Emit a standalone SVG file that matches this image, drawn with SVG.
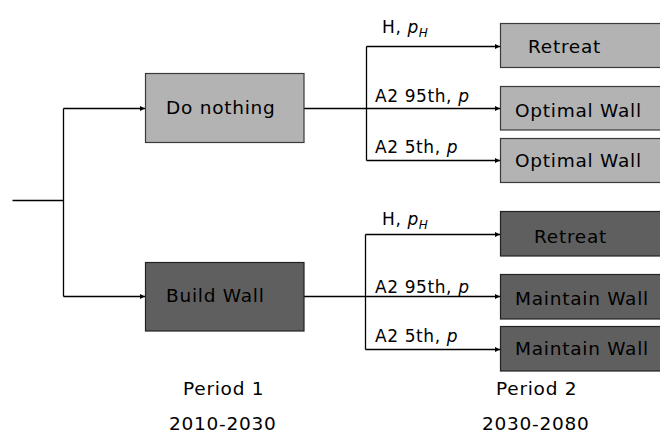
<svg xmlns="http://www.w3.org/2000/svg" width="660" height="433" viewBox="0 0 660 433">
<defs>
<marker id="ah" viewBox="0 0 10 10" refX="10" refY="5" markerWidth="5" markerHeight="5" orient="auto" markerUnits="userSpaceOnUse">
<path d="M0,0 L10,5 L0,10 z" fill="#000"/>
</marker>
<style>
.t{font-family:"DejaVu Sans","Verdana",sans-serif;font-size:18.5px;letter-spacing:0.75px;fill:#000}
.l{font-family:"DejaVu Sans","Verdana",sans-serif;font-size:17px;letter-spacing:0.6px;fill:#000}
.light{fill:#b3b3b3;stroke:#3a3a3a;stroke-width:1.2}
.dark{fill:#5f5f5f;stroke:#222;stroke-width:1.2}
.c{fill:none;stroke:#000;stroke-width:1.3}
</style>
</defs>
<rect width="660" height="433" fill="#fff"/>
<g id="connectors">
<path class="c" d="M12.5,200.5 H63.5"/>
<path class="c" d="M63.5,108.5 V296.5"/>
<path class="c" d="M63.5,108.5 H145" marker-end="url(#ah)"/>
<path class="c" d="M63.5,296.5 H145" marker-end="url(#ah)"/>
<path class="c" d="M304,108.5 H366.5"/>
<path class="c" d="M366.5,46.5 V160.5"/>
<path class="c" d="M366.5,46.5 H500" marker-end="url(#ah)"/>
<path class="c" d="M366.5,108.5 H500" marker-end="url(#ah)"/>
<path class="c" d="M366.5,160.5 H500" marker-end="url(#ah)"/>
<path class="c" d="M304,296.5 H365.5"/>
<path class="c" d="M365.5,234.5 V349.5"/>
<path class="c" d="M365.5,234.5 H500" marker-end="url(#ah)"/>
<path class="c" d="M365.5,296.5 H500" marker-end="url(#ah)"/>
<path class="c" d="M365.5,349.5 H500" marker-end="url(#ah)"/>
<text class="l" x="382" y="33">H, <tspan font-style="italic">p</tspan><tspan font-style="italic" font-size="12" dy="4">H</tspan></text>
<text class="l" x="375" y="102">A2 95th, <tspan font-style="italic">p</tspan></text>
<text class="l" x="375" y="153">A2 5th, <tspan font-style="italic">p</tspan></text>
<text class="l" x="382" y="225">H, <tspan font-style="italic">p</tspan><tspan font-style="italic" font-size="12" dy="4">H</tspan></text>
<text class="l" x="375" y="293">A2 95th, <tspan font-style="italic">p</tspan></text>
<text class="l" x="375" y="342">A2 5th, <tspan font-style="italic">p</tspan></text>
</g>
<g id="do-nothing">
<rect class="light" x="145.5" y="73.5" width="158.5" height="69"/>
<text class="t" x="166" y="114">Do nothing</text>
</g>
<g id="build-wall">
<rect class="dark" x="145.5" y="262.5" width="158.5" height="68.5"/>
<text class="t" x="166" y="302">Build Wall</text>
</g>
<g id="retreat-1">
<rect class="light" x="500.5" y="23.5" width="170" height="44"/>
<text class="t" x="528" y="53">Retreat</text>
</g>
<g id="optimal-wall-1">
<rect class="light" x="500.5" y="86.5" width="170" height="43.5"/>
<text class="t" x="515" y="117">Optimal Wall</text>
</g>
<g id="optimal-wall-2">
<rect class="light" x="500.5" y="138.5" width="170" height="44"/>
<text class="t" x="515" y="167">Optimal Wall</text>
</g>
<g id="retreat-2">
<rect class="dark" x="500.5" y="211.5" width="170" height="44.5"/>
<text class="t" x="534" y="243">Retreat</text>
</g>
<g id="maintain-wall-1">
<rect class="dark" x="500.5" y="274.5" width="170" height="44.5"/>
<text class="t" x="515" y="305">Maintain Wall</text>
</g>
<g id="maintain-wall-2">
<rect class="dark" x="500.5" y="326.5" width="170" height="44.5"/>
<text class="t" x="515" y="355">Maintain Wall</text>
</g>
<g id="period-labels">
<text class="t" x="183" y="395">Period 1</text>
<text class="t" x="169" y="430">2010-2030</text>
<text class="t" x="496" y="395">Period 2</text>
<text class="t" x="482" y="430">2030-2080</text>
</g>
</svg>
